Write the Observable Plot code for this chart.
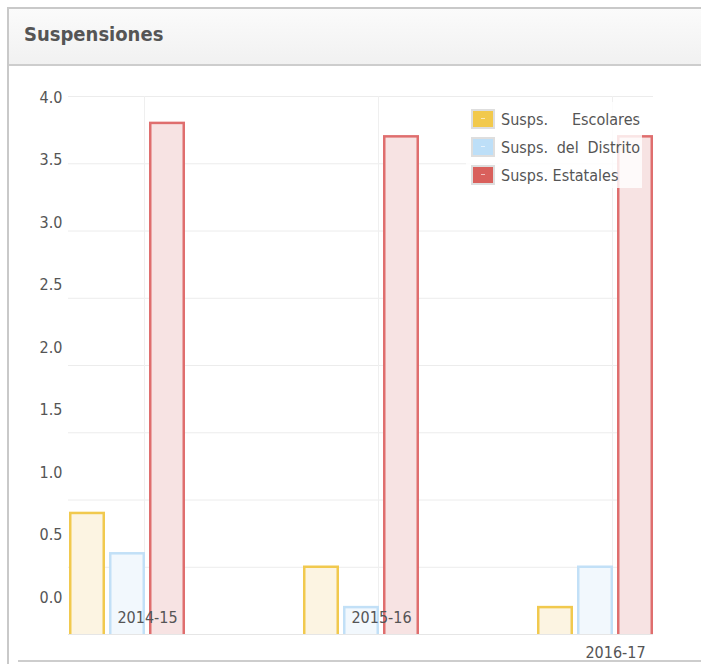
<!DOCTYPE html>
<html>
<head>
<meta charset="utf-8">
<script src="https://cdn.jsdelivr.net/npm/d3@7"></script>
<script src="https://cdn.jsdelivr.net/npm/@observablehq/plot@0.6"></script>
<style>
  html, body { margin: 0; padding: 0; background: #fff; width: 701px; height: 664px; overflow: hidden; }
  body { position: relative; font-family: "DejaVu Sans Condensed", "DejaVu Sans", sans-serif; color: #555; }
  #card { position: absolute; left: 7px; top: 7px; width: 720px; height: 660px; border-top: 2px solid #c9c9c9; border-left: 2px solid #c9c9c9; box-sizing: border-box; }
  #header { position: absolute; left: 9px; top: 9px; width: 720px; height: 55px; background: linear-gradient(#fbfbfb, #f1f1f1); border-bottom: 2px solid #cdcdcd; }
  #title { position: absolute; left: 24px; top: 22px; font-family: "DejaVu Sans Condensed", "DejaVu Sans", sans-serif; font-weight: bold; font-size: 20px; color: #555; }
  #bottomline { position: absolute; left: 18px; top: 660px; width: 690px; height: 2px; background: #cdcdcd; }
  .layer { position: absolute; left: 0; top: 66px; }
  #legend { position: absolute; left: 466px; top: 102px; width: 176px; height: 86px; background: rgba(255,255,255,0.82); }
  .item { position: absolute; left: 5px; height: 22px; width: 169px; display: flex; align-items: center; }
  .sw { width: 20px; height: 16px; border: 2px solid #dedede; box-sizing: content-box; margin-right: 6px; flex: none; position: relative; }
  .sw::after { content: ""; position: absolute; left: 8px; top: 7px; width: 4px; height: 1px; background: rgba(255,255,255,0.6); }
  .lbl { font-size: 16px; color: #555; flex: 1; display: flex; justify-content: space-between; white-space: nowrap; }
  .lbl.nat { justify-content: flex-start; }
</style>
</head>
<body>
<div id="card"></div>
<div id="header"></div>
<div id="title">Suspensiones</div>
<div id="bottomline"></div>
<div id="ylayer" class="layer"></div>
<div id="chart" class="layer"></div>
<div id="legend"></div>
<script>
const years = ["2014-15", "2015-16", "2016-17"];
const seriesNames = ["Susps. Escolares", "Susps. del Distrito", "Susps. Estatales"];
const escolares = [0.9, 0.5, 0.2];
const distrito = [0.6, 0.2, 0.5];
const estatales = [3.8, 3.7, 3.7];
const yTicks = [0, 0.5, 1.0, 1.5, 2.0, 2.5, 3.0, 3.5, 4.0];

const strokes = ["#f1c94e", "#c2e0f7", "#df6e6e"];
const fills = ["#fcf4e2", "#f2f8fd", "#f7e3e3"];
const swatches = ["#f2c94c", "#bddff8", "#d9605c"];

const valuesBySeries = [escolares, distrito, estatales];
const tables = valuesBySeries.map((vals, i) =>
  years.map((year, j) => ({year, series: seriesNames[i], value: vals[j]})));

const W = 701, H = 598;
const font = "'DejaVu Sans Condensed', 'DejaVu Sans', sans-serif";

// Band geometry: each group 116px, bar outer width 36, step 40
const groupW = 116, barStep = 40, barW = 36, sw = 2.5;
const barMarks = tables.map((data, i) => Plot.barY(data, {
  x: "year", y: "value",
  fill: fills[i], stroke: strokes[i], strokeWidth: sw,
  insetLeft: i * barStep + sw / 2,
  insetRight: groupW - (i * barStep + barW) + sw / 2,
  insetBottom: -6,
  clip: true
}));

const chart = Plot.plot({
  width: W, height: H,
  marginTop: 30, marginBottom: 30, marginLeft: 68, marginRight: 48,
  style: {fontFamily: font, fontSize: "16px", color: "#555", background: "transparent"},
  x: {domain: years, paddingInner: 0.5043, paddingOuter: 0, axis: null},
  y: {domain: [0, 4], axis: null},
  marks: [
    Plot.gridY(yTicks.slice(1), {stroke: "#ececec", strokeOpacity: 1}),
    Plot.gridX(years, {dx: 17, stroke: "#efefef", strokeOpacity: 1}),
    ...barMarks,
    Plot.ruleY([0], {stroke: "#e6e6e6", strokeWidth: 1}),
    Plot.axisX(years.slice(0, 2), {tickSize: 0, tickPadding: 0, dx: 20, dy: -23, label: null, fill: "#555"}),
    Plot.axisX(years.slice(2), {tickSize: 0, tickPadding: 0, dx: 20, dy: 12, label: null, fill: "#555"})
  ]
});
document.getElementById("chart").appendChild(chart);

const yAxisPlot = Plot.plot({
  width: W, height: H,
  marginTop: 31, marginBottom: 67, marginLeft: 68, marginRight: 48,
  style: {fontFamily: font, fontSize: "16px", color: "#555", background: "transparent"},
  y: {domain: [0, 4]},
  marks: [
    Plot.axisY(yTicks, {tickSize: 0, tickPadding: 6, tickFormat: d3.format(".1f"), label: null, fill: "#555"})
  ]
});
document.getElementById("ylayer").appendChild(yAxisPlot);

// Legend
const legend = document.getElementById("legend");
seriesNames.forEach((name, i) => {
  const item = document.createElement("div");
  item.className = "item";
  item.style.top = (6 + i * 28) + "px";
  const s = document.createElement("div");
  s.className = "sw";
  s.style.background = swatches[i];
  const l = document.createElement("div");
  l.className = "lbl" + (i === 2 ? " nat" : "");
  if (i === 2) {
    l.textContent = name;
  } else {
    name.split(" ").forEach(w => { const sp = document.createElement("span"); sp.textContent = w; l.appendChild(sp); });
  }
  item.appendChild(s); item.appendChild(l);
  legend.appendChild(item);
});
</script>
</body>
</html>
